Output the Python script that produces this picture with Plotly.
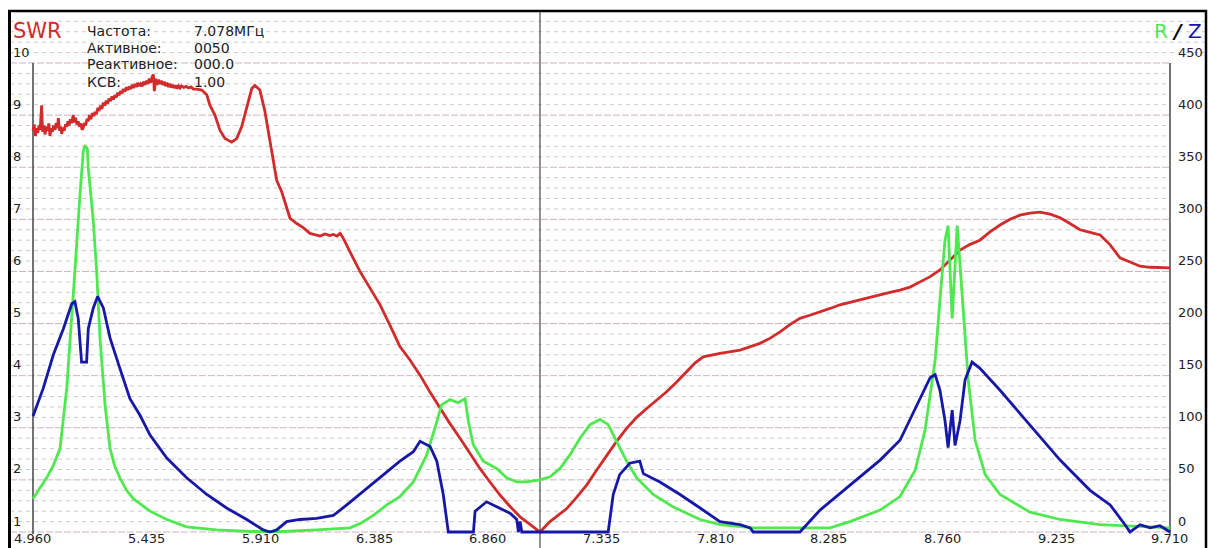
import plotly.graph_objects as go

# ---- sweep data -----------------------------------------------------------
# SWR (left scale)
swr_freq = [4.960, 4.965, 4.970, 4.975, 4.980, 4.985, 4.990, 4.996, 5.000, 5.005,
            5.010, 5.017, 5.022, 5.026, 5.031, 5.036, 5.041, 5.046, 5.052, 5.057,
            5.062, 5.066, 5.071, 5.076, 5.080, 5.085, 5.090, 5.096, 5.101, 5.106,
            5.111, 5.116, 5.122, 5.128, 5.133, 5.138, 5.143, 5.149, 5.154, 5.160,
            5.165, 5.170, 5.175, 5.180, 5.186, 5.191, 5.196, 5.202, 5.208, 5.214,
            5.219, 5.225, 5.231, 5.236, 5.242, 5.248, 5.254, 5.260, 5.266, 5.272,
            5.278, 5.284, 5.290, 5.296, 5.302, 5.308, 5.314, 5.320, 5.326, 5.332,
            5.338, 5.344, 5.350, 5.356, 5.362, 5.368, 5.374, 5.380, 5.386, 5.392,
            5.398, 5.404, 5.410, 5.416, 5.422, 5.428, 5.434, 5.440, 5.446, 5.452,
            5.458, 5.463, 5.467, 5.472, 5.478, 5.484, 5.490, 5.496, 5.502, 5.508,
            5.514, 5.520, 5.526, 5.532, 5.538, 5.544, 5.550, 5.556, 5.562, 5.568,
            5.574, 5.580, 5.590, 5.600, 5.610, 5.620, 5.630, 5.645, 5.665,
            5.686, 5.699, 5.720, 5.741, 5.762, 5.790, 5.811, 5.832, 5.853,
            5.874, 5.887, 5.908, 5.929, 5.943, 5.957, 5.978, 5.999, 6.020, 6.034,
            6.062, 6.089, 6.117, 6.140, 6.159, 6.180, 6.200, 6.215, 6.230, 6.243,
            6.256, 6.298, 6.326, 6.368,
            6.410, 6.451, 6.493, 6.535, 6.577, 6.619, 6.660, 6.702, 6.744, 6.786,
            6.827, 6.869, 6.911, 6.953, 6.995, 7.050,
            7.078, 7.120, 7.155, 7.190, 7.230, 7.273, 7.315, 7.357, 7.398, 7.440,
            7.482, 7.524, 7.565, 7.607, 7.649, 7.691, 7.725, 7.760,
            7.830, 7.914, 7.997, 8.040, 8.081, 8.122, 8.164, 8.206, 8.248, 8.290,
            8.331, 8.373, 8.415, 8.457, 8.499, 8.540, 8.582, 8.624,
            8.666, 8.708, 8.749, 8.791, 8.833, 8.875, 8.916, 8.958, 9.000, 9.042,
            9.083, 9.125, 9.167, 9.209, 9.251, 9.292, 9.334, 9.376, 9.418,
            9.460, 9.501, 9.543, 9.585, 9.627, 9.668, 9.710]
swr_vals = [8.70, 8.82, 8.60, 8.75, 8.66, 8.80, 8.72, 9.19, 8.68, 8.80,
            8.63, 8.78, 8.70, 8.84, 8.60, 8.75, 8.68, 8.80, 8.72, 8.85,
            8.75, 8.94, 8.70, 8.78, 8.64, 8.76, 8.70, 8.82, 8.78, 8.88,
            8.80, 8.92, 8.85, 9.00, 8.86, 8.95, 8.82, 8.88, 8.78, 8.84,
            8.72, 8.76, 8.85, 8.80, 8.93, 8.88, 9.00, 8.92, 9.04, 8.98,
            9.06, 9.02, 9.14, 9.08, 9.18, 9.12, 9.24, 9.18, 9.28, 9.22,
            9.32, 9.27, 9.36, 9.30, 9.38, 9.34, 9.43, 9.38, 9.46, 9.42,
            9.50, 9.45, 9.53, 9.48, 9.55, 9.50, 9.58, 9.52, 9.60, 9.54,
            9.62, 9.56, 9.60, 9.55, 9.64, 9.58, 9.66, 9.60, 9.70, 9.62,
            9.74, 9.78, 9.46, 9.70, 9.58, 9.68, 9.60, 9.66, 9.58, 9.64,
            9.56, 9.62, 9.54, 9.60, 9.53, 9.58, 9.52, 9.57, 9.51, 9.56,
            9.52, 9.56, 9.53, 9.55, 9.52, 9.54, 9.50, 9.50, 9.48,
            9.39, 9.19, 9.00, 8.71, 8.55, 8.48, 8.55, 8.78, 9.13,
            9.51, 9.57, 9.48, 9.07, 8.68, 8.30, 7.75, 7.53, 7.21, 7.02,
            6.92, 6.84, 6.73, 6.70, 6.68, 6.72, 6.69, 6.71, 6.68, 6.73,
            6.64, 6.25, 6.00, 5.68,
            5.36, 4.97, 4.56, 4.30, 4.01, 3.68, 3.37, 3.08, 2.80, 2.51,
            2.22, 1.96, 1.71, 1.49, 1.29, 1.10,
            1.00, 1.20, 1.32, 1.45, 1.66, 1.90, 2.19, 2.48, 2.74, 2.99,
            3.20, 3.37, 3.53, 3.69, 3.88, 4.08, 4.24, 4.36,
            4.43, 4.49, 4.62, 4.72, 4.84, 4.98, 5.10, 5.16, 5.22, 5.29,
            5.36, 5.41, 5.45, 5.50, 5.55, 5.60, 5.64, 5.70,
            5.80, 5.90, 6.03, 6.22, 6.41, 6.52, 6.60, 6.76, 6.89, 7.00,
            7.08, 7.12, 7.14, 7.10, 7.03, 6.92, 6.80, 6.75, 6.70,
            6.51, 6.26, 6.18, 6.10, 6.08, 6.07, 6.07]

# Active resistance R, ohms (right scale)
r_freq = [4.960, 5.017, 5.045, 5.073, 5.101, 5.122, 5.135, 5.156, 5.170, 5.177, 5.187,
          5.191, 5.212, 5.226, 5.240, 5.261, 5.282, 5.302, 5.323, 5.351, 5.379, 5.449, 5.519,
          5.602, 5.727, 5.867, 6.006, 6.145, 6.284, 6.326, 6.382, 6.438, 6.493,
          6.549, 6.605, 6.647, 6.667, 6.702, 6.737, 6.765, 6.779, 6.799, 6.841,
          6.897, 6.939, 6.981, 7.022, 7.078, 7.120, 7.162, 7.203, 7.245, 7.287,
          7.329, 7.363, 7.398, 7.440, 7.482, 7.551, 7.635, 7.747, 7.830, 7.969,
          8.164, 8.290, 8.373, 8.499, 8.582, 8.645, 8.687, 8.729, 8.749, 8.770,
          8.783, 8.800, 8.821, 8.842, 8.867, 8.896, 8.938, 9.000, 9.125, 9.251,
          9.418, 9.710]
r_vals = [32, 52, 64, 80, 138, 202, 250, 323, 365, 371, 368,
          349, 298, 250, 186, 122, 80, 63, 52, 40, 32, 20, 12,
          5, 2, 0.5, 0.5, 2, 4, 8, 16, 26, 34,
          48, 74, 106, 122, 127, 124, 128, 106, 84, 68,
          61, 52, 48, 48, 50, 53, 61, 74, 90, 103,
          108, 103, 87, 68, 52, 36, 24, 12, 7, 4,
          4, 4, 10, 21, 34, 59, 98, 165, 223, 280,
          294, 205, 294, 223, 146, 88, 55, 36, 19, 12,
          7, 4]

# Impedance Z, ohms (right scale)
z_freq = [4.960, 5.003, 5.045, 5.087, 5.122, 5.135, 5.149, 5.163, 5.184, 5.191,
          5.212, 5.230, 5.254, 5.282, 5.323, 5.365, 5.407, 5.449, 5.519, 5.602,
          5.686, 5.769, 5.853, 5.922, 5.950, 5.978, 6.020, 6.075, 6.145, 6.215,
          6.271, 6.354, 6.423, 6.493, 6.549, 6.577, 6.619, 6.647, 6.674, 6.695,
          6.800, 6.807, 6.855, 6.897, 6.953, 6.981, 6.988, 6.995, 7.002, 7.363,
          7.384, 7.411, 7.453, 7.495, 7.510, 7.579, 7.663, 7.747, 7.830, 7.914,
          7.956, 7.969, 8.164, 8.248, 8.373, 8.499, 8.582, 8.666, 8.708, 8.729,
          8.749, 8.770, 8.783, 8.800, 8.812, 8.833, 8.854, 8.883, 8.916, 9.000,
          9.125, 9.251, 9.376, 9.460, 9.522, 9.543, 9.585, 9.627, 9.668, 9.710]
z_vals = [111, 138, 170, 195, 219, 221, 205, 163, 163, 195,
          215, 226, 215, 186, 157, 128, 112, 93, 71, 52,
          36, 23, 12, 2, 0, 2, 10, 12, 13, 16,
          26, 42, 55, 68, 77, 87, 82, 68, 36, 0,
          0, 20, 29, 24, 18, 12, 0, 10, 0, 0,
          36, 55, 66, 68, 56, 48, 36, 23, 10, 7,
          4, 0, 0, 21, 45, 69, 88, 127, 148, 151,
          136, 107, 81, 117, 83, 107, 146, 163, 157, 136,
          103, 69, 40, 26, 7, 0, 7, 4, 6, 0]

# ---- scale and readout text -------------------------------------------------
x_tick_vals = [4.960, 5.435, 5.910, 6.385, 6.860, 7.335, 7.810, 8.285, 8.760, 9.235, 9.710]
x_tick_text = ["4.960", "5.435", "5.910", "6.385", "6.860", "7.335", "7.810", "8.285", "8.760", "9.235", "9.710"]
swr_tick_vals = [1, 2, 3, 4, 5, 6, 7, 8, 9, 10]
rz_tick_vals = [0, 50, 100, 150, 200, 250, 300, 350, 400, 450]

cursor_freq = 7.078
readout_names = ["Частота:", "Активное:", "Реактивное:", "КСВ:"]
readout_values = ["7.078МГц", "0050", "000.0", "1.00"]

# ---- geometry ---------------------------------------------------------------
W, H = 1208, 548
ML, MR, MT, MB = 8, 1, 10, 0
PW, PH = W - ML - MR, H - MT - MB

X_RANGE = [4.8556, 9.8646]
Y_RANGE = [0.693, 11.017]                      # SWR
Y2_RANGE = [(Y_RANGE[0] - 1) * 50, (Y_RANGE[1] - 1) * 50]   # ohms, same grid


def px_x(px):
    return (px - ML) / PW


def px_y(py):
    return 1 - (py - MT) / PH


RED = "#d22b2b"
GREEN = "#4fe84f"
BLUE = "#1717a8"
TXT = "#222222"
FONT = "DejaVu Sans, Verdana, Arial, sans-serif"

fig = go.Figure()
fig.add_trace(go.Scatter(x=r_freq, y=r_vals, yaxis="y2", mode="lines",
                         line=dict(color=GREEN, width=2.8), name="R", hoverinfo="skip"))
fig.add_trace(go.Scatter(x=z_freq, y=z_vals, yaxis="y2", mode="lines",
                         line=dict(color=BLUE, width=2.8), name="Z", hoverinfo="skip"))
fig.add_trace(go.Scatter(x=swr_freq, y=swr_vals, yaxis="y", mode="lines",
                         line=dict(color=RED, width=2.8), name="SWR", hoverinfo="skip"))

shapes = []
# horizontal dashed grid, every 0.2 SWR; whole units in a pinkish tone
for i in range(50):
    v = round(1 + 0.2 * i, 1)
    major = i % 5 == 0
    x1 = px_x(1170) if v <= 10 else 1.0
    shapes.append(dict(type="line", xref="paper", yref="y", x0=px_x(10), x1=x1, y0=v, y1=v,
                       layer="below",
                       line=dict(color="#cdb3c3" if major else "#cccccc", width=1,
                                 dash="7px,2px" if major else "4px,4px")))
# scale lines at both ends of the sweep
for xv in (x_tick_vals[0], x_tick_vals[-1]):
    shapes.append(dict(type="line", xref="x", yref="y", x0=xv, x1=xv, y0=10, y1=0.96,
                       layer="below", line=dict(color="#444444", width=1.5)))
# cursor
shapes.append(dict(type="line", xref="x", yref="paper", x0=cursor_freq, x1=cursor_freq,
                   y0=0, y1=px_y(12), layer="below", line=dict(color="#555555", width=1.3)))
# window frame
shapes.append(dict(type="line", xref="paper", yref="paper", x0=px_x(9.5), x1=px_x(9.5),
                   y0=0, y1=px_y(10), line=dict(color="#000000", width=3)))
shapes.append(dict(type="line", xref="paper", yref="paper", x0=px_x(8), x1=1,
                   y0=px_y(11), y1=px_y(11), line=dict(color="#000000", width=2.5)))
shapes.append(dict(type="line", xref="paper", yref="paper", x0=px_x(1206), x1=px_x(1206),
                   y0=0, y1=px_y(10), line=dict(color="#000000", width=2.5)))

ann = []
for v, t in zip(x_tick_vals, x_tick_text):
    ann.append(dict(x=v, xref="x", y=px_y(547), yref="paper", text=t, showarrow=False,
                    xanchor="center", yanchor="bottom", borderpad=0,
                    font=dict(family=FONT, size=13, color=TXT)))
for v in swr_tick_vals:
    ann.append(dict(x=px_x(11), xref="paper", y=v, yref="y", yshift=11, text=str(v), showarrow=False,
                    xanchor="left", yanchor="middle", font=dict(family=FONT, size=13, color=TXT)))
for v in rz_tick_vals:
    ann.append(dict(x=px_x(1176), xref="paper", y=v, yref="y2", yshift=11, text=str(v), showarrow=False,
                    xanchor="left", yanchor="middle", font=dict(family=FONT, size=13, color=TXT)))

ann.append(dict(x=px_x(11), xref="paper", y=px_y(31), yref="paper", text="SWR", showarrow=False,
                xanchor="left", yanchor="middle", font=dict(family=FONT, size=21, color=RED)))
row_y = [31, 48, 64.5, 81.5]
for name, val, ry in zip(readout_names, readout_values, row_y):
    ann.append(dict(x=px_x(85), xref="paper", y=px_y(ry), yref="paper", text=name, showarrow=False,
                    xanchor="left", yanchor="middle", font=dict(family=FONT, size=14, color=TXT)))
    ann.append(dict(x=px_x(192), xref="paper", y=px_y(ry), yref="paper", text=val, showarrow=False,
                    xanchor="left", yanchor="middle", font=dict(family=FONT, size=14, color=TXT)))
ann.append(dict(x=px_x(1204), xref="paper", y=px_y(31), yref="paper",
                text=f'<span style="color:{GREEN}">R</span> <b><i>/</i></b> <span style="color:{BLUE}">Z</span>',
                showarrow=False, xanchor="right", yanchor="middle",
                font=dict(family=FONT, size=20, color="#000000")))

fig.update_layout(
    width=W, height=H, autosize=False,
    margin=dict(l=ML, r=MR, t=MT, b=MB, pad=0),
    paper_bgcolor="white", plot_bgcolor="white",
    showlegend=False,
    xaxis=dict(range=X_RANGE, visible=False, fixedrange=True),
    yaxis=dict(range=Y_RANGE, visible=False, fixedrange=True),
    yaxis2=dict(range=Y2_RANGE, visible=False, overlaying="y", fixedrange=True),
    shapes=shapes, annotations=ann,
)

fig.write_html("out.html", config={"displayModeBar": False})
